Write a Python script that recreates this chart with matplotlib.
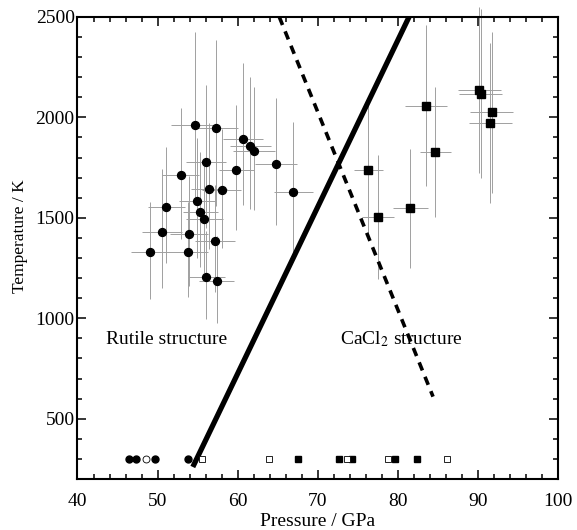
import matplotlib
matplotlib.use("Agg")
from matplotlib import pyplot as plt
from matplotlib.ticker import MultipleLocator

plt.rcParams['font.family'] = ['Liberation Serif', 'DejaVu Serif']
plt.rcParams['mathtext.fontset'] = 'stix'

# Rutile 構造 (丸印)
rutile_p = [54.65, 57.27, 60.67, 61.6, 62.05, 56.1, 64.75, 59.85, 52.9, 56.43, 58.0, 66.96,
            51.08, 54.94, 55.32, 55.82, 50.57, 53.9, 57.23, 49.08, 53.78, 56.06, 57.4]
rutile_t = [1963, 1947, 1895, 1856, 1831, 1778, 1766, 1736, 1712, 1644, 1639, 1631,
            1553, 1586, 1530, 1492, 1430, 1420, 1386, 1331, 1331, 1205, 1185]
rutile_t_hi = [460, 440, 375, 344, 320, 384, 330, 327, 337, 330, 303, 344,
               301, 310, 300, 290, 315, 290, 280, 247, 250, 230, 225]
rutile_t_lo = [400, 390, 330, 310, 290, 330, 303, 298, 315, 300, 288, 313,
               277, 285, 275, 265, 278, 260, 255, 233, 225, 210, 207]
rutile_p_err = [3.0, 2.8, 2.5, 2.6, 2.6, 2.5, 2.6, 2.2, 2.3, 2.3, 2.4, 2.4,
                2.3, 2.3, 2.2, 2.3, 2.5, 2.4, 2.5, 2.4, 2.5, 2.3, 2.2]

# CaCl2 構造 (四角印)
cacl2_p = [90.19, 90.35, 83.54, 91.72, 91.56, 84.7, 76.3, 81.55, 77.51]
cacl2_t = [2137, 2119, 2059, 2025, 1972, 1828, 1738, 1548, 1506]
cacl2_t_err = [413, 420, 400, 400, 400, 325, 340, 297, 308]
cacl2_p_err = [2.7, 2.7, 2.6, 2.7, 2.7, 1.9, 1.8, 2.2, 2.0]

# 室温 (300 K) のデータ
rt_circle_filled = [46.46, 47.29, 49.62, 53.86]
rt_circle_open = [48.54]
rt_square_filled = [67.49, 72.65, 74.23, 79.59, 82.42]
rt_square_open = [55.61, 63.88, 73.65, 78.76, 86.16]
rt_temp = 300

# 相境界
boundary_p = [54.4, 81.4]
boundary_t = [260, 2500]
dashed_p = [65.2, 84.4]
dashed_t = [2500, 610]

fig = plt.figure(figsize=(5.77, 5.30), dpi=100)
ax = fig.add_axes([0.1343, 0.0962, 0.8327, 0.8718])

# エラーバー
ax.errorbar(rutile_p, rutile_t, yerr=[rutile_t_lo, rutile_t_hi], xerr=rutile_p_err,
            fmt='none', ecolor='#a0a0a0', elinewidth=0.7, capsize=0, clip_on=False)
ax.errorbar(cacl2_p, cacl2_t, yerr=cacl2_t_err, xerr=cacl2_p_err,
            fmt='none', ecolor='#a0a0a0', elinewidth=0.7, capsize=0, clip_on=False)

# 境界線
ax.plot(boundary_p, boundary_t, color='black', lw=3.8, solid_capstyle='butt', zorder=3)
ax.plot(dashed_p, dashed_t, color='black', lw=2.6, dashes=(2.4, 1.9), zorder=3)

# データ点
ax.plot(rutile_p, rutile_t, 'o', color='black', ms=5.7, zorder=4)
ax.plot(cacl2_p, cacl2_t, 's', color='black', ms=5.3, zorder=4)

ax.plot(rt_circle_filled, [rt_temp] * len(rt_circle_filled), 'o', color='black', ms=5, zorder=4)
ax.plot(rt_circle_open, [rt_temp] * len(rt_circle_open), 'o', mfc='white', mec='black',
        mew=0.6, ms=5, zorder=4)
ax.plot(rt_square_filled, [rt_temp] * len(rt_square_filled), 's', color='black', ms=4.8, zorder=4)
ax.plot(rt_square_open, [rt_temp] * len(rt_square_open), 's', mfc='white', mec='black',
        mew=0.6, ms=4.8, zorder=4)

ax.text(43.6, 895, 'Rutile structure', fontsize=14, va='center', ha='left')
ax.text(72.8, 895, r'CaCl$_2$ structure', fontsize=14, va='center', ha='left')

ax.set_xlim(40, 100)
ax.set_ylim(200, 2500)
ax.xaxis.set_major_locator(MultipleLocator(10))
ax.xaxis.set_minor_locator(MultipleLocator(2))
ax.yaxis.set_minor_locator(MultipleLocator(100))
ax.set_yticks([500, 1000, 1500, 2000, 2500])

ax.tick_params(which='both', direction='in', top=True, right=True, labelsize=14, width=1.1)
ax.tick_params(which='major', length=6.5)
ax.tick_params(which='minor', length=3.5)
ax.tick_params(axis='x', which='major', pad=10)
ax.tick_params(axis='y', which='major', pad=2)
for s in ax.spines.values():
    s.set_linewidth(1.5)

ax.set_xlabel('Pressure / GPa', fontsize=14, labelpad=2)
ax.set_ylabel('Temperature / K', fontsize=12.5)
ax.yaxis.set_label_coords(-0.103, 0.525)

fig.savefig('out.png', dpi=100)
